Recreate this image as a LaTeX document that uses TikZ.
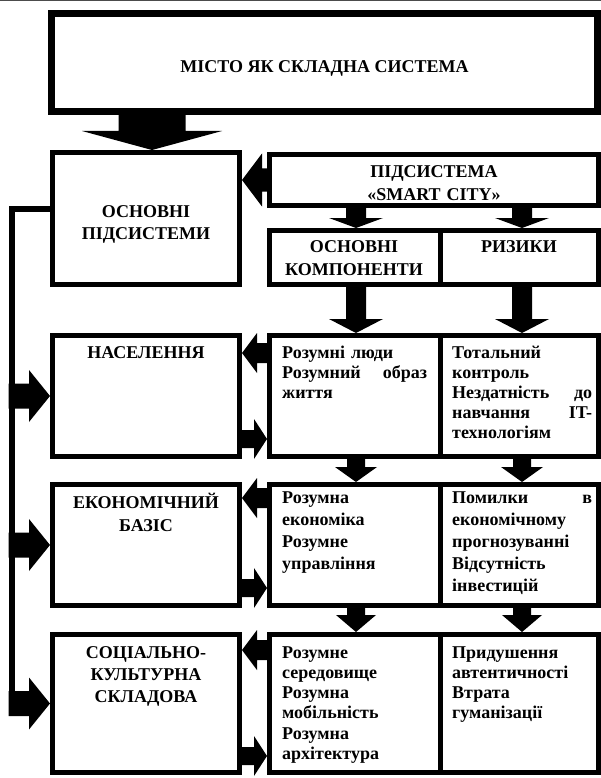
\documentclass[tikz,border=0pt]{standalone}
\usepackage{fontspec}
\setmainfont{Liberation Serif}
\usetikzlibrary{calc}
% block arrow: #1 start, #2 tip, #3 shaft half-width, #4 head half-width, #5 head length
\newcommand\blockarrow[5]{%
  \coordinate (bhd) at ($(#2)!#5!(#1)$);
  \fill ($(#1)!#3!90:(#2)$) -- ($(bhd)!#3!90:(#2)$) -- ($(bhd)!#4!90:(#2)$) -- (#2)
     -- ($(bhd)!#4!-90:(#2)$) -- ($(bhd)!#3!-90:(#2)$) -- ($(#1)!#3!-90:(#2)$) -- cycle;}
\begin{document}
\begin{tikzpicture}[x=1pt,y=-1pt,
  box/.style={draw, line width=5pt, inner sep=0pt, anchor=north west},
  txt/.style={inner sep=0pt, font=\fontsize{18}{22}\selectfont\bfseries},
  ctxt/.style={txt, anchor=base, text width=185pt, align=center},
  ltxt/.style={txt, anchor=base west, align=left}]
\useasboundingbox (0,0) rectangle (601,778);
\draw[line width=1.5pt, black!70] (0,0.75) -- (601,0.75);

% boxes
\node[box, line width=7pt, minimum width=546pt, minimum height=98pt] (top) at (48,10) {};
\node[box, minimum width=187pt, minimum height=132pt] (osn) at (50,150) {};
\node[box, minimum width=329pt, minimum height=51pt] (smart) at (267,152) {};
\node[box, minimum width=170.5pt, minimum height=54pt] (compL) at (267,228) {};
\node[box, minimum width=158.5pt, minimum height=54pt] (compR) at (437.5,228) {};
\node[box, minimum width=187pt, minimum height=121pt] (r1L) at (50,333) {};
\node[box, minimum width=170.5pt, minimum height=121pt] (r1A) at (267,333) {};
\node[box, minimum width=158.5pt, minimum height=121pt] (r1B) at (437.5,333) {};
\node[box, minimum width=187pt, minimum height=121pt] (r2L) at (50,482) {};
\node[box, minimum width=170.5pt, minimum height=121pt] (r2A) at (267,482) {};
\node[box, minimum width=158.5pt, minimum height=121pt] (r2B) at (437.5,482) {};
\node[box, minimum width=187pt, minimum height=138pt] (r3L) at (50,632) {};
\node[box, minimum width=170.5pt, minimum height=138pt] (r3A) at (267,632) {};
\node[box, minimum width=158.5pt, minimum height=138pt] (r3B) at (437.5,632) {};

% texts
\node[txt, anchor=base] (tTitle) at (324.5,73) {МІСТО ЯК СКЛАДНА СИСТЕМА};
\node[ctxt] (tOsn) at (146,217) {ОСНОВНІ\\ПІДСИСТЕМИ};
\node[ctxt, font=\fontsize{18}{23}\selectfont\bfseries, text width=300pt] (tSmart) at (434,177) {ПІДСИСТЕМА\\«SMART CITY»};
\node[ctxt, font=\fontsize{18}{23}\selectfont\bfseries, text width=165pt] (tComp) at (354,252) {ОСНОВНІ\\КОМПОНЕНТИ};
\node[txt, anchor=base] (tRisk) at (519,252) {РИЗИКИ};
\node[txt, anchor=base] (t1L) at (146,358) {НАСЕЛЕННЯ};
\node[ctxt, font=\fontsize{18}{23}\selectfont\bfseries] (t2L) at (146,508) {ЕКОНОМІЧНИЙ\\БАЗІС};
\node[ctxt] (t3L) at (146,658) {СОЦІАЛЬНО-\\КУЛЬТУРНА\\СКЛАДОВА};

\node[ltxt, text width=145pt, font=\fontsize{18}{20.2}\selectfont\bfseries] (t1A) at (282,358)
  {Розумні люди\\Розумний\hfill образ\\життя};
\node[ltxt, text width=140pt, font=\fontsize{18}{20.2}\selectfont\bfseries] (t1B) at (452,358)
  {Тотальний\\контроль\\Нездатність\hfill до\\навчання\hfill IT-\\технологіям};
\node[ltxt, text width=145pt, font=\fontsize{18}{22}\selectfont\bfseries] (t2A) at (282,503)
  {Розумна\\економіка\\Розумне\\управління};
\node[ltxt, text width=140pt, font=\fontsize{18}{22}\selectfont\bfseries] (t2B) at (452,503)
  {Помилки\hfill в\\економічному\\прогнозуванні\\Відсутність\\інвестицій};
\node[ltxt, text width=145pt, font=\fontsize{18}{20.3}\selectfont\bfseries] (t3A) at (282,658)
  {Розумне\\середовище\\Розумна\\мобільність\\Розумна\\архітектура};
\node[ltxt, text width=140pt, font=\fontsize{18}{20.3}\selectfont\bfseries] (t3B) at (452,658)
  {Придушення\\автентичності\\Втрата\\гуманізації};

% helper coordinates
\coordinate (cA) at (356,0);
\coordinate (cB) at (522,0);
\coordinate (Lx) at (11.5,0);
\coordinate (Lo) at (8.5,0);

% big arrow
\coordinate (a0e) at ([xshift=6pt]osn.north);
\coordinate (a0s) at (top.south -| a0e);
\blockarrow{a0s}{a0e}{33.5pt}{70pt}{19pt}

% down arrows
\coordinate (d1s) at (smart.south -| cA); \coordinate (d1e) at (compL.north -| cA);
\blockarrow{d1s}{d1e}{10pt}{27pt}{10pt}
\coordinate (d2s) at (smart.south -| cB); \coordinate (d2e) at (compR.north -| cB);
\blockarrow{d2s}{d2e}{10pt}{27pt}{10pt}
\coordinate (d3s) at (compL.south -| cA); \coordinate (d3e) at (r1A.north -| cA);
\blockarrow{d3s}{d3e}{10pt}{27pt}{14pt}
\coordinate (d4s) at (compR.south -| cB); \coordinate (d4e) at (r1B.north -| cB);
\blockarrow{d4s}{d4e}{10pt}{27pt}{14pt}
\coordinate (d5s) at (r1A.south -| cA); \coordinate (d5e) at (r2A.north -| cA);
\blockarrow{d5s}{d5e}{9pt}{21pt}{15pt}
\coordinate (d6s) at (r1B.south -| cB); \coordinate (d6e) at (r2B.north -| cB);
\blockarrow{d6s}{d6e}{9pt}{21pt}{15pt}
\coordinate (d7s) at (r2A.south -| cA); \coordinate (d7e) at (r3A.north -| cA);
\blockarrow{d7s}{d7e}{9pt}{20pt}{17pt}
\coordinate (d8s) at (r2B.south -| cB); \coordinate (d8e) at (r3B.north -| cB);
\blockarrow{d8s}{d8e}{9pt}{20pt}{17pt}

% smart -> osn
\coordinate (h0s) at (smart.west); \coordinate (h0e) at (osn.east |- h0s);
\blockarrow{h0s}{h0e}{11.5pt}{26.5pt}{20pt}

% row left-pointing arrows
\coordinate (h1s) at ([yshift=-20pt]r1A.north west); \coordinate (h1e) at (r1L.east |- h1s);
\blockarrow{h1s}{h1e}{10pt}{20pt}{15pt}
\coordinate (h2s) at ([yshift=-16pt]r2A.north west); \coordinate (h2e) at (r2L.east |- h2s);
\blockarrow{h2s}{h2e}{10pt}{20pt}{15pt}
\coordinate (h3s) at ([yshift=-18pt]r3A.north west); \coordinate (h3e) at (r3L.east |- h3s);
\blockarrow{h3s}{h3e}{10pt}{20pt}{15pt}

% row right-pointing arrows
\coordinate (g1s) at ([yshift=20pt]r1L.south east); \coordinate (g1e) at (r1A.west |- g1s);
\blockarrow{g1s}{g1e}{9pt}{20pt}{13pt}
\coordinate (g2s) at ([yshift=20pt]r2L.south east); \coordinate (g2e) at (r2A.west |- g2s);
\blockarrow{g2s}{g2e}{9pt}{20pt}{13pt}
\coordinate (g3s) at ([yshift=19pt]r3L.south east); \coordinate (g3e) at (r3A.west |- g3s);
\blockarrow{g3s}{g3e}{9pt}{20pt}{13pt}

% left feedback line and arrows
\draw[line width=6pt] ([yshift=9.5pt]osn.west) -| (Lx |- r3L.west);
\coordinate (k1s) at (Lo |- r1L.west);
\blockarrow{k1s}{r1L.west}{12.5pt}{26pt}{21pt}
\coordinate (k2s) at (Lo |- r2L.west);
\blockarrow{k2s}{r2L.west}{12.5pt}{26pt}{21pt}
\coordinate (k3s) at (Lo |- r3L.west);
\blockarrow{k3s}{r3L.west}{12.5pt}{26pt}{21pt}
\end{tikzpicture}
\end{document}
